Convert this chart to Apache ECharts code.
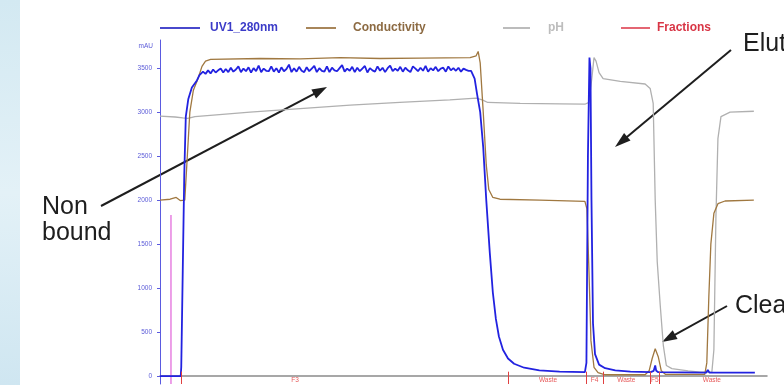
<!DOCTYPE html>
<html><head><meta charset="utf-8">
<script src="https://cdn.jsdelivr.net/npm/echarts@6/dist/echarts.min.js"></script>
<style>html,body{margin:0;padding:0;background:#fff}#c{width:784px;height:385px}</style>
</head><body><div id="c"></div>
<script>
// ---- data (x in ml, y in mAU) ----
const yTicks = [0, 500, 1000, 1500, 2000, 2500, 3000, 3500];
const uvRise = [[0,0],[4.1,0],[4.2,100],[4.5,1200],[4.8,2300],[5.1,2950],[5.6,3150],[6.3,3280],[7.3,3360],[7.8,3420]];
const uvPlateauStart = 8, uvPlateauStep = 0.5;
const uvPlateau = [
 3420,3460,3435,3475,3440,3485,3450,3475,3495,3450,
 3490,3455,3505,3460,3485,3520,3455,3495,3465,3510,
 3450,3500,3465,3530,3455,3495,3470,3465,3520,3460,
 3500,3450,3510,3465,3490,3540,3455,3500,3460,3515,
 3470,3455,3510,3465,3495,3525,3455,3500,3470,3460,
 3520,3455,3505,3475,3465,3500,3535,3460,3495,3470,
 3515,3455,3505,3465,3495,3525,3450,3500,3475,3460,
 3520,3470,3505,3455,3500,3530,3465,3495,3470,3515,
 3460,3505,3475,3455,3520,3495,3465,3505,3470,3525,
 3460,3500,3475,3515,3465,3495,3505,3460,3520,3475,
 3500,3470,3505,3460,3495,3480,3470];
const uvTail = [[61.5,3470],[62.2,3380],[62.7,3200],[63.3,3000],[63.9,2600],[64.5,2000],[65.2,1400],[65.8,950],[66.4,650],[67.0,450],[67.8,300],[68.8,200],[70,140],[72,95],[75,65],[79,50],[84.0,45],[84.3,150],[84.6,2500],[84.9,3620],[85.1,3500],[85.3,2000],[85.6,600],[86.0,250],[86.8,130],[88,90],[90,65],[93,50],[97,45],[97.6,60],[97.9,120],[98.1,60],[98.5,45],[108,40],[108.3,70],[108.6,40],[117.6,40]];
const conductivity = [[0,2000],[2.0,2010],[3.2,2030],[4.0,1995],[4.9,2000],[5.3,2400],[5.9,3000],[6.6,3250],[7.5,3380],[8.3,3520],[9.0,3580],[10,3600],[19.8,3610],[27.7,3605],[35.6,3620],[43.5,3610],[51.4,3615],[61.3,3620],[62.5,3640],[62.9,3690],[63.3,3560],[63.9,3000],[64.5,2400],[65.0,2120],[65.8,2030],[67.2,2010],[75.1,2000],[84.0,1985],[84.4,1900],[84.8,1200],[85.2,400],[85.8,100],[86.6,40],[88.0,15],[95.9,15],[96.7,60],[97.3,200],[97.9,310],[98.5,220],[99.1,60],[99.9,20],[107.7,20],[108.1,150],[108.5,900],[108.9,1500],[109.5,1850],[110.3,1960],[111.7,1990],[117.4,2000]];
const ph = [[0,2955],[3.0,2945],[4.5,2935],[5.5,2930],[6.9,2950],[17.8,3000],[27.7,3040],[37.6,3080],[47.4,3110],[57.3,3140],[62.5,3160],[63.7,3140],[64.8,3110],[71.2,3100],[79.1,3095],[84.0,3090],[84.8,3110],[85.4,3400],[85.8,3620],[86.2,3580],[86.8,3450],[87.6,3380],[91.0,3350],[95.9,3320],[96.9,3270],[97.5,3100],[97.9,2000],[98.3,1300],[98.9,800],[99.5,350],[100.1,120],[101.2,85],[104.4,60],[106.8,45],[109.1,45],[109.5,300],[109.9,1800],[110.3,2700],[110.9,2950],[112.7,3000],[117.4,3010]];
const injection = [[2.17,-90],[2.17,1830]];
const fractionTicks = [4.15, 68.8, 84.2, 87.6, 96.9, 98.7];
const fractionLabelX = [26.7, 76.7, 85.9, 92.2, 97.8, 109.1];
const fractionLabels = ['F3', 'Waste', 'F4', 'Waste', 'F5', 'Waste'];

// ---- build ----
const uv = uvRise.concat(uvPlateau.map((v, i) => [uvPlateauStart + i * uvPlateauStep, v]), uvTail);
const FONT = 'Liberation Sans';
function arrow(x1, y1, x2, y2, len, w) {
  const dx = x2 - x1, dy = y2 - y1, L = Math.hypot(dx, dy), ux = dx / L, uy = dy / L;
  const bx = x2 - ux * len, by = y2 - uy * len;
  return [
    {type:'line', shape:{x1:x1, y1:y1, x2:bx + ux*2, y2:by + uy*2}, style:{stroke:'#1e1e1e', lineWidth:2}},
    {type:'polygon', shape:{points:[[x2,y2],[bx - uy*w/2, by + ux*w/2],[bx + uy*w/2, by - ux*w/2]]}, style:{fill:'#1e1e1e'}}
  ];
}
function annoText(x, y, t) {
  return {type:'text', x:x, y:y, style:{text:t, fill:'#1e1e1e', font:'25px "' + FONT + '"', textVerticalAlign:'middle'}};
}
const chart = echarts.init(document.getElementById('c'), null, {renderer:'canvas'});
const legendText = (c) => ({color:c, fontSize:12, fontWeight:'bold', fontFamily:FONT});
chart.setOption({
  animation:false,
  backgroundColor:'#ffffff',
  grid:{left:160, right:17, top:40, bottom:1},
  legend:[
    {data:[{name:'UV1_280nm', icon:'rect'}], left:160, top:22, padding:0, itemWidth:40, itemHeight:2, selectedMode:false, textStyle:Object.assign(legendText('#3b3bc8'), {padding:[0,0,0,5]})},
    {data:[{name:'Conductivity', icon:'rect'}], left:306, top:22, padding:0, itemWidth:30, itemHeight:2, selectedMode:false, textStyle:Object.assign(legendText('#8c6a42'), {padding:[0,0,0,12]})},
    {data:[{name:'pH', icon:'rect'}], left:503, top:22, padding:0, itemWidth:27, itemHeight:2, selectedMode:false, textStyle:Object.assign(legendText('#bdbdbd'), {padding:[0,0,0,13]})},
    {data:[{name:'Fractions', icon:'rect'}], left:621, top:22, padding:0, itemWidth:29, itemHeight:2, selectedMode:false, textStyle:Object.assign(legendText('#d83545'), {padding:[0,0,0,2]})}
  ],
  xAxis:{type:'value', min:0, max:120, axisLine:{lineStyle:{color:'#8a8a8a', width:1.5}}, axisTick:{show:false}, axisLabel:{show:false}, splitLine:{show:false}},
  yAxis:{type:'value', min:-90, max:3820,
    axisLine:{show:true, lineStyle:{color:'#5a5ae0', width:1}},
    axisTick:{show:true, length:3, customValues:yTicks, lineStyle:{color:'#5a5ae0'}},
    axisLabel:{customValues:yTicks, margin:8, color:'#5a5ad8', fontSize:6.5, fontFamily:FONT, formatter:(v) => String(v)},
    splitLine:{show:false}},
  series:[
    {name:'pH', type:'line', data:ph, showSymbol:false, symbol:'none', color:'#bcbcbc', lineStyle:{width:1.3, color:'#b0b0b0'}, z:2},
    {name:'Conductivity', type:'line', data:conductivity, showSymbol:false, symbol:'none', color:'#a8865a', lineStyle:{width:1.3, color:'#a07840'}, z:3},
    {name:'UV1_280nm', type:'line', data:uv, showSymbol:false, symbol:'none', color:'#4848cc', lineStyle:{width:1.8, color:'#2222e0'}, z:4},
    {name:'inj', type:'line', data:injection, showSymbol:false, symbol:'none', lineStyle:{width:1.2, color:'#e060d8'}, z:2},
    {name:'Fractions', type:'scatter', color:'#dd4050', symbolSize:0, z:5,
      data:fractionLabelX.map((x, i) => ({name:fractionLabels[i], value:[x, -52]})),
      label:{show:true, position:'inside', formatter:'{b}', color:'#e03030', fontSize:6.5, fontFamily:FONT},
      markLine:{silent:true, symbol:'none', label:{show:false}, lineStyle:{color:'#e04040', width:1, type:'solid'},
        data:fractionTicks.map(x => [{coord:[x, -90]}, {coord:[x, 50]}])}
    }
  ],
  graphic:[
    {type:'rect', z:-10, shape:{x:0, y:0, width:20, height:385}, style:{fill:new echarts.graphic.LinearGradient(0,0,0,1,[{offset:0,color:'#d3e9f2'},{offset:0.5,color:'#e3f1f7'},{offset:1,color:'#cfe6f1'}])}},
    {type:'text', x:153, y:46, style:{text:'mAU', fill:'#5a5ad8', font:'6.5px "' + FONT + '"', textAlign:'right', textVerticalAlign:'middle'}},
    annoText(42, 207, 'Non'),
    annoText(42, 233, 'bound'),
    annoText(743, 44, 'Elut'),
    annoText(735, 306, 'Clea'),
    ...arrow(101, 206, 327, 87, 15, 10),
    ...arrow(731, 50, 615, 147, 16, 10),
    ...arrow(727, 306, 662, 342, 15, 10)
  ]
});
</script></body></html>
